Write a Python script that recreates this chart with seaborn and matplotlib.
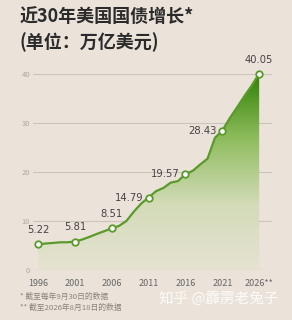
import numpy as np
import pandas as pd
import matplotlib
matplotlib.use("Agg")
import matplotlib.pyplot as plt
import seaborn as sns
from matplotlib.patches import Polygon
from matplotlib.colors import LinearSegmentedColormap

years = list(range(1996, 2027))
debt = [5.22, 5.41, 5.53, 5.66, 5.67, 5.81, 6.23, 6.78, 7.38, 7.93,
        8.51, 9.01, 10.02, 11.91, 13.56, 14.79, 16.07, 16.74, 17.82, 18.15,
        19.57, 20.24, 21.52, 22.72, 26.95, 28.43, 30.93, 33.17, 35.46, 37.64,
        40.05]
label_years = [1996, 2001, 2006, 2011, 2016, 2021, 2026]
xtick_labels = ["1996", "2001", "2006", "2011", "2016", "2021", "2026**"]
yticks = [0, 10, 20, 30, 40]
title1 = "近30年美国国债增长*"
title2 = "(单位：万亿美元)"
note1 = "* 截至每年9月30日的数据"
note2 = "** 截至2026年8月18日的数据"
watermark = "知乎 @霹雳老兔子"

df = pd.DataFrame({"year": years, "debt": debt})

sns.set_theme(style="white")
plt.rcParams['font.family'] = ['Noto Sans CJK SC', 'DejaVu Sans']

bg = "#ebe3d9"
fig = plt.figure(figsize=(2.92, 3.2), dpi=100, facecolor=bg)
ax = fig.add_axes([0.113, 0.156, 0.819, 0.644])
ax.set_facecolor(bg)

x0, x1 = 1995.32, 2027.76
ax.set_xlim(x0, x1)
ax.set_ylim(0, 42)

# gradient fill
grad = np.linspace(0, 1, 256).reshape(-1, 1)
cmap = LinearSegmentedColormap.from_list("g", ["#2f8004", "#8fbd5e", "#d3dbb8", "#e6e3d2"])
im = ax.imshow(grad, aspect="auto", cmap=cmap,
               extent=[1996, 2026, 0, 40.05], origin="upper", zorder=1,
               interpolation="bicubic")
verts = [(1996, 0)] + list(zip(years, debt)) + [(2026, 0)]
poly = Polygon(verts, closed=True, facecolor="none", edgecolor="none")
ax.add_patch(poly)
im.set_clip_path(poly)

for yv in yticks[1:]:
    ax.axhline(yv, color="#cbc4ba", lw=0.8, zorder=0.5)
ax.axhline(0, color="#bdb6ac", lw=0.8, zorder=3)

sns.lineplot(data=df, x="year", y="debt", ax=ax, color="#5a9a2a", lw=1.6, zorder=4)

ldf = df[df["year"].isin(label_years)]
ax.scatter(ldf["year"], ldf["debt"], s=22, facecolor="white", edgecolor="#5a9a2a",
           linewidth=1.3, zorder=5)

offsets = {1996: (0, 7, "center", "bottom"), 2001: (0, 7, "center", "bottom"),
           2006: (0, 7, "center", "bottom"), 2011: (-4, 0, "right", "center"),
           2016: (-4, 0, "right", "center"), 2021: (-4, 0, "right", "center"),
           2026: (0, 6, "center", "bottom")}
for y_, v in zip(ldf["year"], ldf["debt"]):
    dx, dy, ha, va = offsets[y_]
    ax.annotate(f"{v:.2f}", (y_, v), xytext=(dx, dy), textcoords="offset points",
                ha=ha, va=va, fontsize=7.2, color="#444444", zorder=6,
                family=['DejaVu Sans'])

for s in ax.spines.values():
    s.set_visible(False)
ax.set_yticks(yticks)
ax.set_yticklabels([str(v) for v in yticks], fontsize=5.5, color="#b0a99f")
ax.tick_params(axis="y", length=0, pad=2)
ax.set_xticks(label_years)
ax.set_xticklabels(xtick_labels, fontsize=6.5, color="#666666")
ax.set_xticks(years, minor=True)
ax.tick_params(axis="x", which="major", direction="inout", length=5, width=0.7,
               color="#a9a29a", pad=4)
ax.tick_params(axis="x", which="minor", direction="inout", length=4, width=0.6,
               color="#b6afa6")
ax.set_xlabel("")
ax.set_ylabel("")

fig.text(0.068, 0.944, title1, fontsize=13, fontweight="bold", color="#2b2b2b",
         ha="left", va="center")
fig.text(0.068, 0.869, title2, fontsize=13, fontweight="bold", color="#2b2b2b",
         ha="left", va="center")
fig.text(0.068, 0.072, note1, fontsize=5.6, color="#8a847c", ha="left", va="center")
fig.text(0.068, 0.039, note2, fontsize=5.6, color="#8a847c", ha="left", va="center")
fig.text(0.955, 0.068, watermark, fontsize=10.5, color="white", alpha=0.85,
         ha="right", va="center")

fig.savefig("out.png", dpi=100, facecolor=bg)
